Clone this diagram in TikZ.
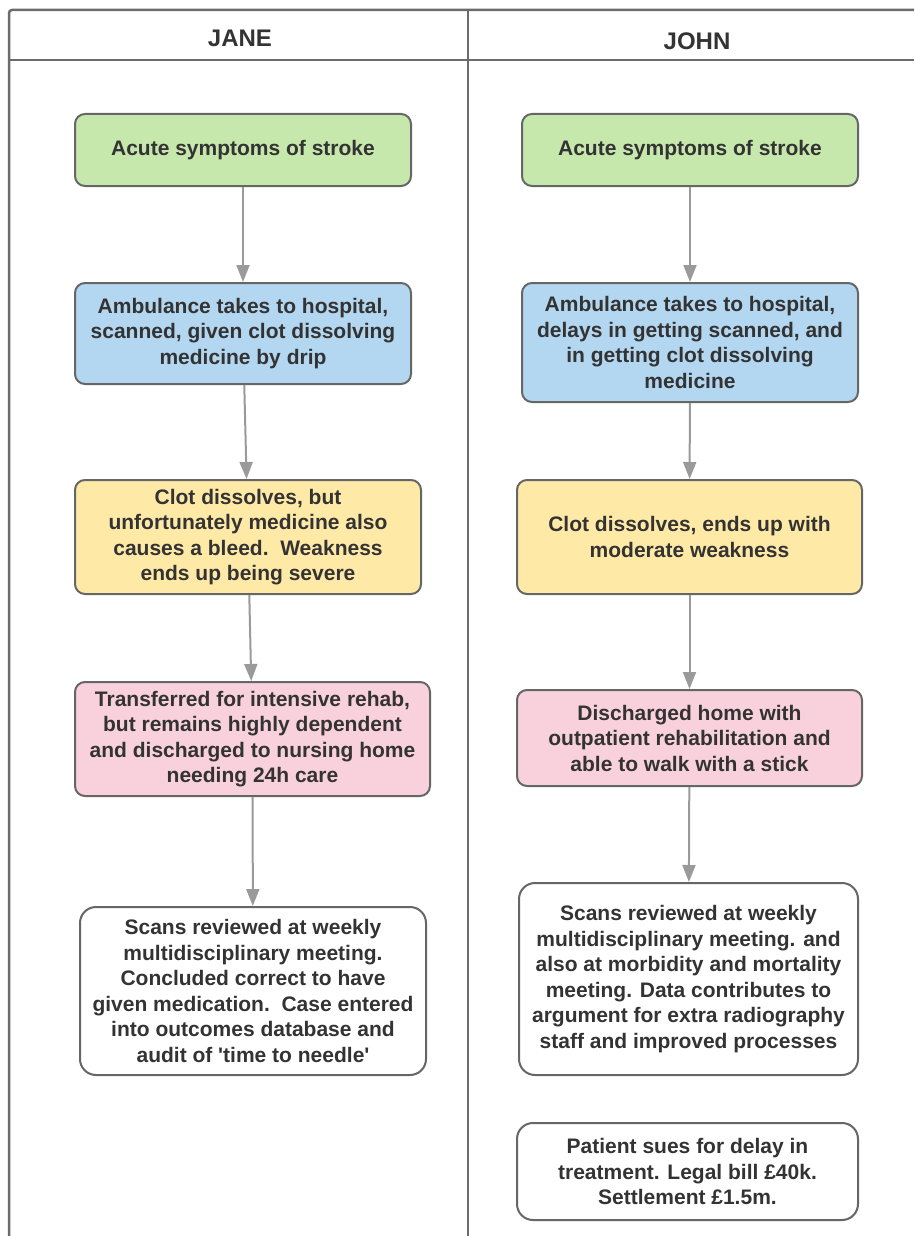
\documentclass[tikz,border=0pt]{standalone}
\usepackage{xcolor}
\usepackage{fontspec}
\setmainfont{Liberation Sans}
\usepackage{tikz}
\usetikzlibrary{positioning,arrows.meta}
\definecolor{framegray}{HTML}{6B6B6B}
\definecolor{edgegray}{HTML}{666666}
\definecolor{arrowgray}{HTML}{9A9A9A}
\definecolor{inkgray}{HTML}{333333}
\definecolor{onsetgreen}{HTML}{C7E8AC}
\definecolor{carebluefill}{HTML}{B3D7F0}
\definecolor{clotyellow}{HTML}{FFE9A6}
\definecolor{rehabpink}{HTML}{F8D1DD}
\newcommand{\boxfont}{\fontsize{21}{25.5}\selectfont\bfseries}

\begin{document}
\begin{tikzpicture}[x=1pt, y=-1pt,
			stage/.style={draw=edgegray, line width=2pt, rounded corners=10pt, align=center, text=inkgray, font=\boxfont, inner sep=2pt},
			onset/.style={stage, fill=onsetgreen, minimum width=336pt, minimum height=72pt},
			care/.style={stage, fill=carebluefill},
			clot/.style={stage, fill=clotyellow},
			rehab/.style={stage, fill=rehabpink},
			review/.style={stage, fill=white, rounded corners=16pt},
			lane/.style={text=inkgray, font=\fontsize{24}{28}\selectfont\bfseries},
			flow/.style={draw=arrowgray, line width=2pt, -{Triangle[width=13pt,length=17pt]}},
		]
			\useasboundingbox (0,0) rectangle (914,1236);

			% swimlane frame
			\draw[framegray, line width=2.5pt, rounded corners=3pt] (9,1236) -- (9,10) -- (914,10);
			\draw[framegray, line width=2.5pt] (9,60) -- (914,60);
			\draw[framegray, line width=2.5pt] (468,10) -- (468,1236);
			\node[lane] (jane) at (240,38) {JANE};
			\node[lane] (john) at (697,41) {JOHN};

			% Jane
			\node[onset] (janeOnset) at (243,150) {Acute symptoms of stroke};
			\node[care, minimum width=336pt, minimum height=101pt] (janeAmbulance) [below=95pt of janeOnset] {Ambulance takes to hospital,\\ scanned, given clot dissolving\\ medicine by drip};
			\node[clot, minimum width=346pt, minimum height=114pt] (janeClot) [below=94pt of janeAmbulance, xshift=5pt] {Clot dissolves, but\\ unfortunately medicine also\\ causes a bleed.\ \ Weakness\\ ends up being severe};
			\node[rehab, minimum width=355pt, minimum height=114pt] (janeRehab) [below=86pt of janeClot, xshift=4.5pt] {Transferred for intensive rehab,\\ but remains highly dependent\\ and discharged to nursing home\\ needing 24h care};
			\node[review, minimum width=346pt, minimum height=168pt] (janeReview) [below=109pt of janeRehab, xshift=0.5pt] {Scans reviewed at weekly\\ multidisciplinary meeting.\\ Concluded correct to have\\ given medication.\ \ Case entered\\ into outcomes database and\\ audit of \textquotesingle time to needle\textquotesingle};

			\draw[flow] (janeOnset) -- (janeAmbulance);
			\draw[flow] (janeAmbulance) -- (janeClot);
			\draw[flow] (janeClot) -- (janeRehab);
			\draw[flow] (janeRehab) -- (janeReview);

			% John
			\node[onset] (johnOnset) at (690,150) {Acute symptoms of stroke};
			\node[care, minimum width=336pt, minimum height=119pt] (johnAmbulance) [below=95pt of johnOnset] {Ambulance takes to hospital,\\ delays in getting scanned, and\\ in getting clot dissolving\\ medicine};
			\node[clot, minimum width=345pt, minimum height=114pt] (johnClot) [below=76pt of johnAmbulance, xshift=-0.5pt] {Clot dissolves, ends up with\\ moderate weakness};
			\node[rehab, minimum width=345pt, minimum height=96pt] (johnHome) [below=94pt of johnClot] {Discharged home with\\ outpatient rehabilitation and\\ able to walk with a stick};
			\node[review, minimum width=339pt, minimum height=192pt] (johnReview) [below=95pt of johnHome, xshift=-1pt] {Scans reviewed at weekly\\ multidisciplinary meeting. and\\ also at morbidity and mortality\\ meeting. Data contributes to\\ argument for extra radiography\\ staff and improved processes};
			\node[review, minimum width=341pt, minimum height=97pt] (johnClaim) [below=46pt of johnReview, xshift=-1pt] {Patient sues for delay in\\ treatment. Legal bill £40k.\\ Settlement £1.5m.};

			\draw[flow] (johnOnset) -- (johnAmbulance);
			\draw[flow] (johnAmbulance) -- (johnClot);
			\draw[flow] (johnClot) -- (johnHome);
			\draw[flow] (johnHome) -- (johnReview);

		\end{tikzpicture}
\end{document}
